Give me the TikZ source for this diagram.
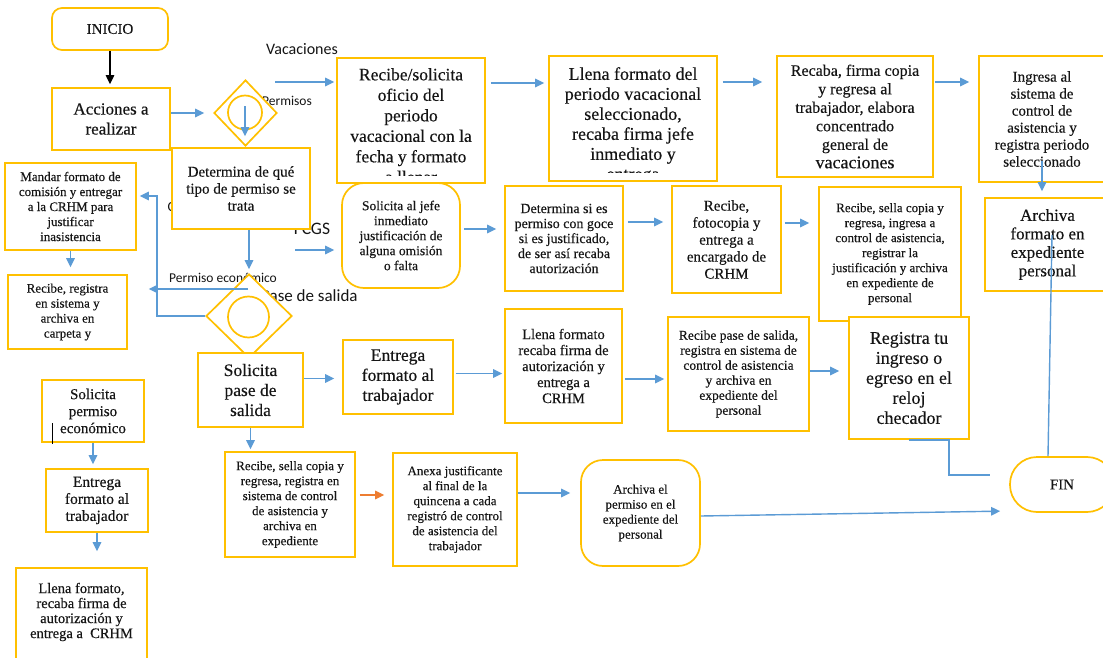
\documentclass[tikz,border=0pt]{standalone}
\usepackage{fontspec}
\setmainfont{Liberation Serif}[FakeBold=0.3]
\newfontfamily\lblfont{Carlito}
\usetikzlibrary{arrows.meta,shapes.geometric,calc}
\definecolor{gold}{HTML}{FFC000}
\definecolor{flow}{HTML}{5B9BD5}
\definecolor{hot}{HTML}{ED7D31}
\definecolor{ink}{HTML}{151515}
\newcommand\fsz[2]{\fontsize{#1}{#2}\selectfont}

\begin{document}
\begin{tikzpicture}[x=1pt,y=-1pt,
  box/.style={draw=gold, line width=1.7pt, fill=white, align=center,
              inner sep=1pt, text=ink},
  dia/.style={diamond, draw=gold, line width=1.7pt, fill=white, inner sep=0pt},
  ring/.style={circle, draw=gold, line width=1.7pt, inner sep=0pt},
  arr/.style={draw=flow, line width=1.4pt, -{Triangle[length=9pt,width=8.5pt]}},
  bline/.style={draw=flow, line width=1.4pt},
  lbl/.style={text=ink, inner sep=0pt}]

\fill[white] (0,0) rectangle (1103,658);
\useasboundingbox (0,0) rectangle (1103,658);

% ---- branch labels (partly hidden by the shapes drawn over them)
\node[lbl, font=\lblfont\fsz{16}{18}] (lvac) at (302,49) {Vacaciones};
\node[lbl, font=\lblfont\fsz{13.5}{15}] (lper) at (287,101) {Permisos};
\node[lbl, font=\lblfont\fsz{14}{16}, anchor=west] (lcom) at (167.5,207) {C};
\node[lbl, font=\lblfont\fsz{17.5}{19}] (lfcgs) at (312,229) {FCGS};
\node[lbl, font=\lblfont\fsz{13.5}{15}] (lpe) at (223,278) {Permiso económico};
\node[lbl, font=\lblfont\fsz{17}{19}, anchor=west] (lps) at (261,296) {Pase de salida};

% ---- start and first decision
\node[box, rounded corners=10pt, minimum width=116pt, minimum height=42pt,
      font=\fsz{15}{17}] (inicio) at (110,29) {INICIO};
\node[box, minimum width=118pt, minimum height=62pt, font=\fsz{17}{20}]
      (acc) at (111,119) {Acciones a\\realizar};
\node[dia, minimum width=63pt, minimum height=66pt] (d1) at (245.5,113) {};
\node[ring, minimum size=34pt] (c1) at (245,112.5) {};

% ---- vacation row (the two first boxes cut their text at the inner margin)
\node[box, minimum width=148pt, minimum height=125pt] (vac1) at (411,120.5) {};
\begin{scope}
  \clip ([yshift=8pt]vac1.south west) rectangle (vac1.north east);
  \node[lbl, align=center, anchor=north, font=\fsz{17.5}{20.5}] at (411,68)
    {Recibe/solicita\\oficio del\\periodo\\vacacional con la\\fecha y formato\\a llenar};
\end{scope}
\node[box, minimum width=168pt, minimum height=125pt] (vac2) at (633,118.5) {};
\begin{scope}
  \clip ([yshift=9pt]vac2.south west) rectangle (vac2.north east);
  \node[lbl, align=center, anchor=north, font=\fsz{18}{20}] at (633,67)
    {Llena formato del\\periodo vacacional\\seleccionado,\\recaba firma jefe\\inmediato y\\entrega};
\end{scope}
\node[box, minimum width=156pt, minimum height=121pt, font=\fsz{16}{18.5}]
      (vac3) at (855,116.5)
      {Recaba, firma copia\\y regresa al\\trabajador, elabora\\concentrado\\general de\\{\fsz{18}{18.5}vacaciones}};
\node[box, minimum width=126pt, minimum height=126pt, font=\fsz{15}{17}]
      (vac4) at (1042,119)
      {Ingresa al\\sistema de\\control de\\asistencia y\\registra periodo\\seleccionado};
\node[box, minimum width=125pt, minimum height=93pt, font=\fsz{17}{18.5}]
      (arch) at (1047.5,244.5) {Archiva\\formato en\\expediente\\personal};

% ---- permission type
\node[box, minimum width=138pt, minimum height=81pt, font=\fsz{15}{17}]
      (det1) at (241,188.5) {Determina de qué\\tipo de permiso se\\trata};
\node[box, minimum width=131pt, minimum height=87pt, font=\fsz{13}{15}]
      (man) at (70.5,206.5)
      {Mandar formato de\\comisión y entregar\\a la CRHM para\\justificar\\inasistencia};
\node[box, minimum width=119pt, minimum height=74pt, font=\fsz{13}{15}]
      (rr) at (67.5,312) {Recibe, registra\\en sistema y\\archiva en\\carpeta y};

% ---- FCGS row
\node[box, rounded corners=22pt, minimum width=118pt, minimum height=105pt,
      font=\fsz{13.5}{15}] (sj) at (401,235.5)
      {Solicita al jefe\\inmediato\\justificación de\\alguna omisión\\o falta};
\node[box, minimum width=118pt, minimum height=105pt, font=\fsz{14}{15}]
      (dse) at (564,238.5)
      {Determina si es\\permiso con goce\\si es justificado,\\de ser así recaba\\autorización};
\node[box, minimum width=109pt, minimum height=107pt, font=\fsz{15}{17}]
      (rfo) at (726.5,239.5)
      {Recibe,\\fotocopia y\\entrega a\\encargado de\\CRHM};
\node[box, minimum width=142pt, minimum height=134pt, font=\fsz{13}{15}]
      (rsc) at (890,254)
      {Recibe, sella copia y\\regresa, ingresa a\\control de asistencia,\\registrar la\\justificación y archiva\\en expediente de\\personal};

% ---- exit pass row
\node[dia, minimum width=86pt, minimum height=84pt] (d2) at (249,316) {};
\node[ring, minimum size=41pt] (c2) at (248.5,317) {};
\node[box, minimum width=105pt, minimum height=74pt, font=\fsz{17.5}{20}]
      (sps) at (250.5,390) {Solicita\\pase de\\salida};
\node[box, minimum width=110pt, minimum height=74pt, font=\fsz{17.5}{20}]
      (efa) at (398,377) {Entrega\\formato al\\trabajador};
\node[box, minimum width=117pt, minimum height=114pt, font=\fsz{14.5}{16}]
      (lfr) at (563.5,366)
      {Llena formato\\recaba firma de\\autorización y\\entrega a\\CRHM};
\node[box, minimum width=141pt, minimum height=114pt, font=\fsz{13.5}{15}]
      (rps) at (738.5,374)
      {Recibe pase de salida,\\registra en sistema de\\control de asistencia\\y archiva en\\expediente del\\personal};
\node[box, minimum width=120pt, minimum height=122pt, font=\fsz{18}{20}]
      (reg) at (909,378)
      {Registra tu\\ingreso o\\egreso en el\\reloj\\checador};
\node[box, minimum width=130pt, minimum height=105pt, font=\fsz{13}{15}]
      (rsr) at (290,504.5)
      {Recibe, sella copia y\\regresa, registra en\\sistema de control\\de asistencia y\\archiva en\\expediente};
\node[box, minimum width=124pt, minimum height=113pt, font=\fsz{13}{15}]
      (anx) at (455,509.5)
      {Anexa justificante\\al final de la\\quincena a cada\\registró de control\\de asistencia del\\trabajador};
\node[box, rounded corners=22pt, minimum width=119pt, minimum height=106pt,
      font=\fsz{13}{15}] (arp) at (640.5,513)
      {Archiva el\\permiso en el\\expediente del\\personal};
\node[box, rounded corners=27pt, minimum width=104pt, minimum height=55pt,
      font=\fsz{15}{17}] (fin) at (1062,484.5) {FIN};

% ---- economic permission column
\node[box, minimum width=102pt, minimum height=62pt, font=\fsz{15}{17}]
      (spe) at (93,411) {Solicita\\permiso\\económico};
\draw[black, line width=1pt] (52,423) -- (52,444);
\node[box, minimum width=102pt, minimum height=63pt, font=\fsz{15.5}{17}]
      (efs) at (97,500.5) {Entrega\\formato al\\trabajador};
\node[box, minimum width=131pt, minimum height=102pt] (lfs) at (81.5,619) {};
\node[lbl, align=center, font=\fsz{14.5}{15}] (lfst) at (81.5,612)
      {Llena formato,\\recaba firma de\\autorización y\\entrega a \ CRHM};

% ---- connectors
\draw[arr, draw=black, line width=1.2pt, shorten >=3pt]
     (inicio.south) -- (inicio.south |- acc.north);
\draw[arr, shorten >=9pt] (acc.east |- d1.center) -- (d1.west);
\draw[arr, shorten >=11pt] ([yshift=6pt]c1.center) -- (c1.center |- det1.north);

\coordinate (vs) at (275,82);
\draw[arr, shorten >=2pt] (vs) -- (vs -| vac1.west);
\coordinate (h1) at (0,83);
\draw[arr, shorten <=5pt, shorten >=4pt] (h1 -| vac1.east) -- (h1 -| vac2.west);
\coordinate (h2) at (0,82);
\draw[arr, shorten <=5pt, shorten >=14pt] (h2 -| vac2.east) -- (h2 -| vac3.west);
\draw[arr, shorten <=1pt, shorten >=9pt] (h2 -| vac3.east) -- (h2 -| vac4.west);
\draw[arr, shorten >=6pt] ([yshift=22pt]vac4.south) -- (vac4.south |- arch.north);
\coordinate (archin) at (1052,235);
\draw[bline] ([xshift=-14pt]fin.north) -- (archin);

\coordinate (fg) at (295,250);
\draw[arr, shorten >=7pt] (fg) -- (fg -| sj.west);
\coordinate (h3) at (0,229);
\draw[arr, shorten <=3pt, shorten >=8pt] (h3 -| sj.east) -- (h3 -| dse.west);
\coordinate (h4) at (0,222);
\draw[arr, shorten <=4pt, shorten >=8pt] (h4 -| dse.east) -- (h4 -| rfo.west);
\coordinate (h5) at (0,223);
\draw[arr, shorten <=3pt, shorten >=9pt] (h5 -| rfo.east) -- (h5 -| rsc.west);

\draw[arr, shorten >=4pt] (d2.north |- det1.south) -- (d2.north);
\coordinate (lp) at (157,196);
\draw[arr, shorten >=3pt] (d2.west) -| (lp) -- (lp -| man.east);
\coordinate (pe) at (248,289);
\draw[arr, shorten >=21pt] (pe) -- (pe -| rr.east);
\draw[arr, shorten >=7pt] (man.south) -- (man.south |- rr.north);

\coordinate (h6) at (0,378.5);
\draw[arr, shorten >=8pt] (h6 -| sps.east) -- (h6 -| efa.west);
\coordinate (h7) at (0,373.5);
\draw[arr, shorten <=2pt, shorten >=2pt] (h7 -| efa.east) -- (h7 -| lfr.west);
\coordinate (h8) at (0,379);
\draw[arr, shorten <=2pt, shorten >=3pt] (h8 -| lfr.east) -- (h8 -| rps.west);
\coordinate (h9) at (0,371);
\draw[arr, shorten >=9pt] (h9 -| rps.east) -- (h9 -| reg.west);
\coordinate (fc) at (990,475);
\draw[bline] (reg.south) -- ++(40,0) |- (fc);

\draw[arr, shorten >=2pt] (sps.south) -- (sps.south |- rsr.north);
\coordinate (h10) at (0,495);
\draw[arr, draw=hot, shorten <=4pt, shorten >=8pt] (h10 -| rsr.east) -- (h10 -| anx.west);
\coordinate (h11) at (0,493);
\draw[arr, shorten >=10pt] (h11 -| anx.east) -- (h11 -| arp.west);
\coordinate (q1) at (0,516);
\coordinate (q2) at (0,511);
\draw[arr, shorten >=9pt] (q1 -| arp.east) -- (q2 -| fin.west);

\draw[arr, shorten >=4pt] (spe.south) -- (spe.south |- efs.north);
\draw[arr, shorten >=16pt] (efs.south) -- (efs.south |- lfs.north);
\end{tikzpicture}
\end{document}
